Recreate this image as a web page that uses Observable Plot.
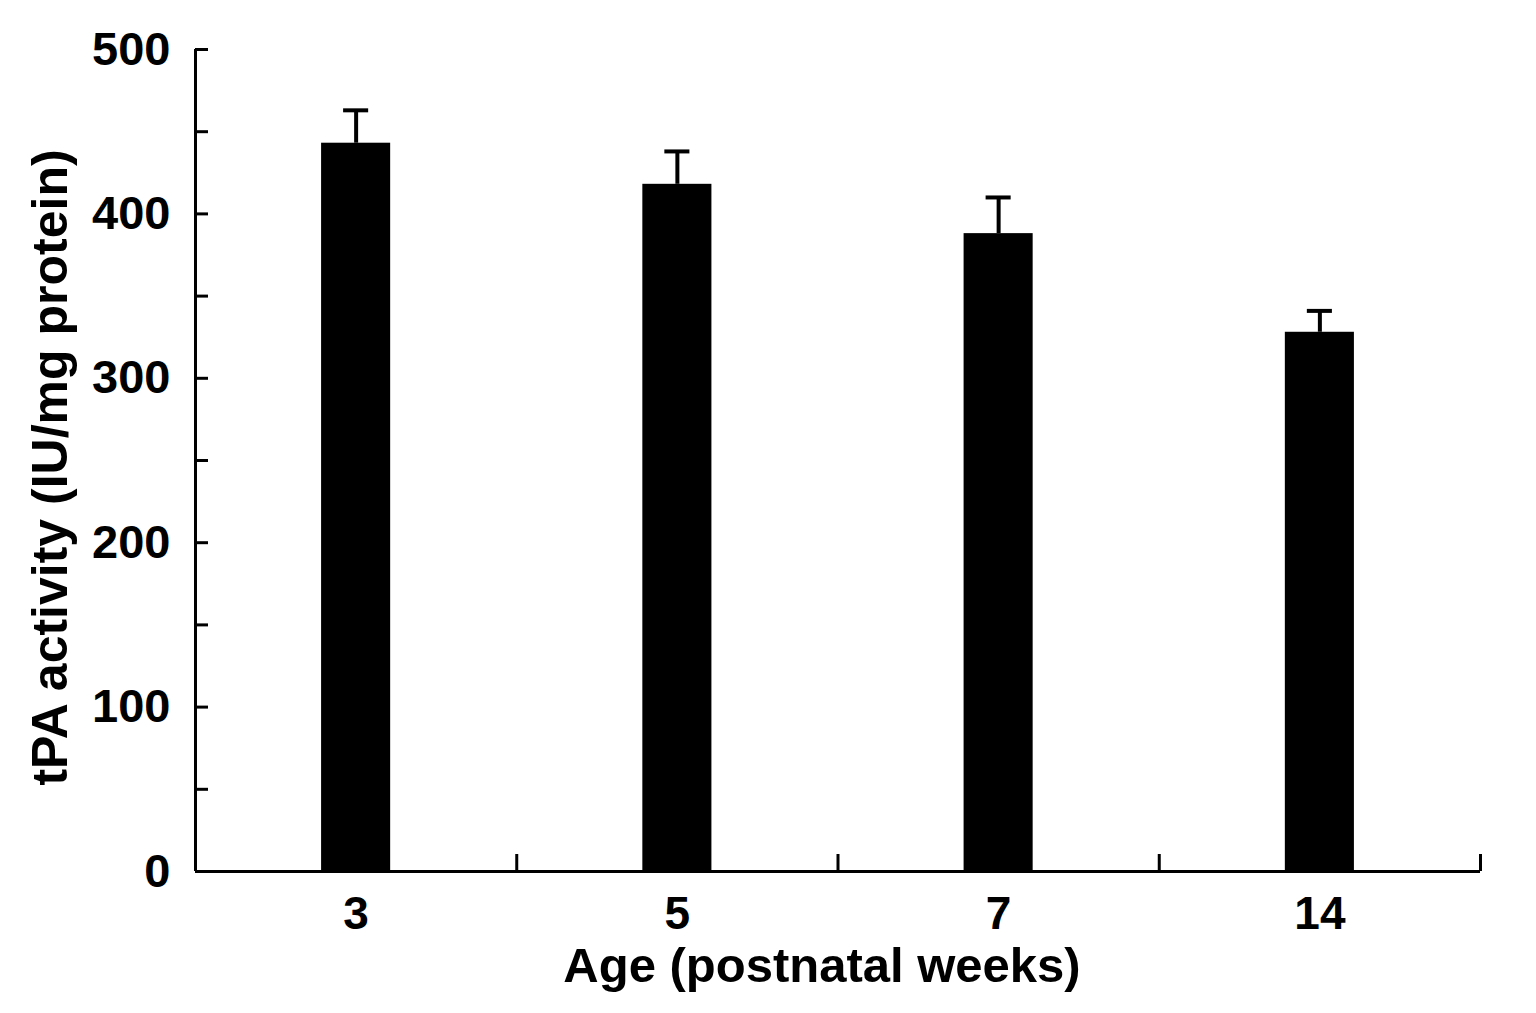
<!DOCTYPE html>
<html><head><meta charset="utf-8">
<script src="https://cdn.jsdelivr.net/npm/d3@7"></script>
<script src="https://cdn.jsdelivr.net/npm/@observablehq/plot@0.6"></script>
<style>body{margin:0;background:#fff;} #chart svg{display:block;}</style>
</head><body><div id="chart"></div>
<script>
const ages = ["3", "5", "7", "14"];
const means = [443, 418, 388, 328];
const errors = [20, 20, 22, 13];
const yTicks = [0, 100, 200, 300, 400, 500];
const yMinorTicks = [0, 50, 100, 150, 200, 250, 300, 350, 400, 450, 500];
const xBoundaries = [0.5, 1.5, 2.5, 3.5];
const xTitle = "Age (postnatal weeks)";
const yTitle = "tPA activity (IU/mg protein)";

const data = ages.map((a, i) => ({i, age: a, mean: means[i], err: errors[i]}));
const font = "'Liberation Sans', Arial, Helvetica, sans-serif";

const chart = Plot.plot({
  width: 1536,
  height: 1013,
  marginTop: 49,
  marginBottom: 142,
  marginLeft: 195,
  marginRight: 56,
  style: {fontFamily: font, fontWeight: "bold", background: "#fff", color: "#000"},
  x: {type: "linear", domain: [-0.5, 3.5]},
  y: {domain: [0, 500]},
  marks: [
    Plot.rectY(data, {x1: d => d.i - 0.1075, x2: d => d.i + 0.1075, y1: 0, y2: "mean", fill: "#000"}),
    Plot.ruleX(data, {x: "i", y1: "mean", y2: d => d.mean + d.err, stroke: "#000", strokeWidth: 4}),
    Plot.ruleY(data, {y: d => d.mean + d.err, x1: d => d.i - 0.039, x2: d => d.i + 0.039, stroke: "#000", strokeWidth: 4}),
    Plot.ruleX([-0.5], {y1: 0, y2: 500, stroke: "#000", strokeWidth: 3}),
    Plot.ruleY([0], {x1: -0.5, x2: 3.5, stroke: "#000", strokeWidth: 3}),
    Plot.axisY(yMinorTicks, {tickSize: 13, dx: 13, text: null, strokeWidth: 3, label: null}),
    Plot.axisY(yTicks, {tickSize: 0, tickPadding: 25, fontSize: 47, fontWeight: "bold", label: null}),
    Plot.axisX(xBoundaries, {tickSize: 17, dy: -17, text: null, strokeWidth: 3, label: null}),
    Plot.axisX([0, 1, 2, 3], {tickSize: 0, tickPadding: 25, tickFormat: i => ages[i], fontSize: 46, fontWeight: "bold", label: null}),
    Plot.text([xTitle], {frameAnchor: "bottom", textAnchor: "middle", dx: -16, dy: 110, fontSize: 49, fontWeight: "bold", fill: "#000"}),
    Plot.text([yTitle], {frameAnchor: "left", textAnchor: "middle", rotate: -90, dx: -145, dy: 7, fontSize: 50, fontWeight: "bold", fill: "#000"})
  ]
});
document.getElementById("chart").appendChild(chart);
</script>
</body></html>
